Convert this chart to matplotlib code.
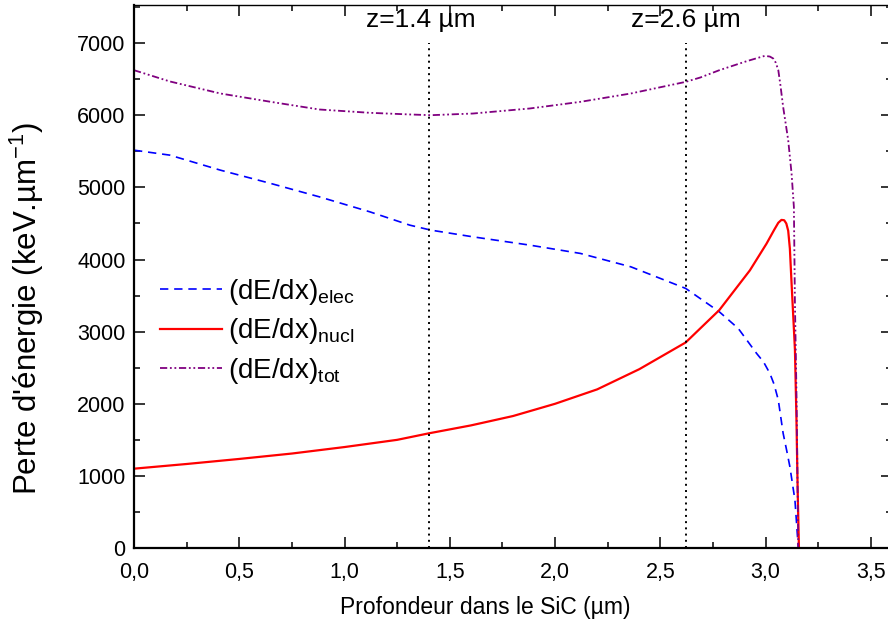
import matplotlib
matplotlib.use("Agg")
import matplotlib.pyplot as plt
from matplotlib.ticker import MultipleLocator, FixedLocator

plt.rcParams['font.family'] = ['Liberation Sans', 'DejaVu Sans']
plt.rcParams['mathtext.default'] = 'regular'

# ---- data ----
x_elec = [0, 0.17, 0.41, 0.65, 0.88, 1.12, 1.31, 1.41, 1.61, 1.88, 2.12, 2.36,
          2.62, 2.78, 2.87, 2.957, 2.99, 3.02, 3.04, 3.06, 3.07, 3.083, 3.1,
          3.115, 3.139, 3.155]
y_elec = [5517, 5448, 5240, 5055, 4870, 4662, 4477, 4408, 4315, 4200, 4085, 3899,
          3600, 3275, 3044, 2698, 2580, 2421, 2270, 2052, 1850, 1590, 1350,
          1127, 665, 0]

x_nucl = [0, 0.25, 0.5, 0.75, 1.0, 1.25, 1.4, 1.6, 1.8, 2.0, 2.2, 2.4, 2.62,
          2.78, 2.925, 3.004, 3.04, 3.06, 3.075, 3.088, 3.098, 3.107, 3.115,
          3.123, 3.133, 3.139, 3.146, 3.152, 3.158]
y_nucl = [1100, 1165, 1235, 1310, 1400, 1500, 1590, 1700, 1830, 2000, 2200, 2480,
          2850, 3300, 3850, 4220, 4410, 4510, 4550, 4545, 4500, 4400, 4150,
          3670, 3100, 2750, 1820, 800, 0]

x_tot = [0, 0.17, 0.41, 0.65, 0.88, 1.12, 1.31, 1.41, 1.61, 1.88, 2.12, 2.36,
         2.62, 2.69, 2.78, 2.91, 2.996, 3.02, 3.036, 3.048, 3.06, 3.07, 3.083,
         3.107, 3.123, 3.134, 3.139, 3.146, 3.155]
y_tot = [6626, 6470, 6303, 6187, 6081, 6035, 6012, 6002, 6025, 6095, 6187, 6303,
         6464, 6525, 6626, 6751, 6825, 6815, 6788, 6730, 6626, 6420, 6117,
         5656, 5194, 4731, 3400, 2200, 0]

labels = [r'(dE/dx)$_{elec}$', r'(dE/dx)$_{nucl}$', r'(dE/dx)$_{tot}$']
z_lines = [1.4, 2.62]
z_labels = ['z=1.4 µm', 'z=2.6 µm']
x_ticks = [0.0, 0.5, 1.0, 1.5, 2.0, 2.5, 3.0, 3.5]
x_ticklabels = ['0,0', '0,5', '1,0', '1,5', '2,0', '2,5', '3,0', '3,5']
y_ticks = [0, 1000, 2000, 3000, 4000, 5000, 6000, 7000]

# ---- figure ----
fig = plt.figure(figsize=(8.88, 6.30), dpi=100)
ax = fig.add_axes([134/888, 82/630, (892-134)/888, 543/630])

ax.plot(x_elec, y_elec, color='#0000ff', lw=1.2, dashes=(5, 3.5), label=labels[0])
ax.plot(x_nucl, y_nucl, color='#ff0000', lw=1.6, label=labels[1])
ax.plot(x_tot, y_tot, color='#800080', lw=1.3,
        dashes=(4, 1.5, 1, 1.5, 1, 1.5), label=labels[2])

ax.vlines(z_lines, 0, 7000, colors='black', linestyles=(0, (1, 2.2)), lw=1.4)
for zx, zl, dx in zip(z_lines, z_labels, [-0.04, 0.0]):
    ax.text(zx + dx, 7320, zl, ha='center', va='center', fontsize=19)

ax.set_xlim(0, 3.6)
ax.set_ylim(0, 7530)
ax.xaxis.set_major_locator(FixedLocator(x_ticks))
ax.set_xticklabels(x_ticklabels)
ax.xaxis.set_minor_locator(MultipleLocator(0.25))
ax.yaxis.set_major_locator(FixedLocator(y_ticks))
ax.yaxis.set_minor_locator(MultipleLocator(500))

ax.tick_params(which='both', direction='in', top=True, right=True,
               labelsize=15.5, width=1.1)
ax.tick_params(which='major', length=8)
ax.tick_params(axis='y', which='major', pad=6)
ax.tick_params(axis='x', which='major', pad=10)
ax.tick_params(which='minor', length=4.5)
for s in ['left', 'bottom']:
    ax.spines[s].set_linewidth(1.6)
for s in ['top', 'right']:
    ax.spines[s].set_linewidth(1.0)

ax.set_xlabel('Profondeur dans le SiC (µm)', fontsize=16.5)
ax.xaxis.set_label_coords(0.463, -0.088)
ax.set_ylabel(r"Perte d'énergie (keV.µm$^{-1}$)", fontsize=22.5)
ax.yaxis.set_label_coords(-0.116, 0.442)

leg = ax.legend(loc='center left', bbox_to_anchor=(0.034, 0.399), frameon=False,
                fontsize=20, handlelength=2.25, handletextpad=0.22,
                borderpad=0, borderaxespad=0, labelspacing=0.33)

fig.savefig('out.png', dpi=100)
